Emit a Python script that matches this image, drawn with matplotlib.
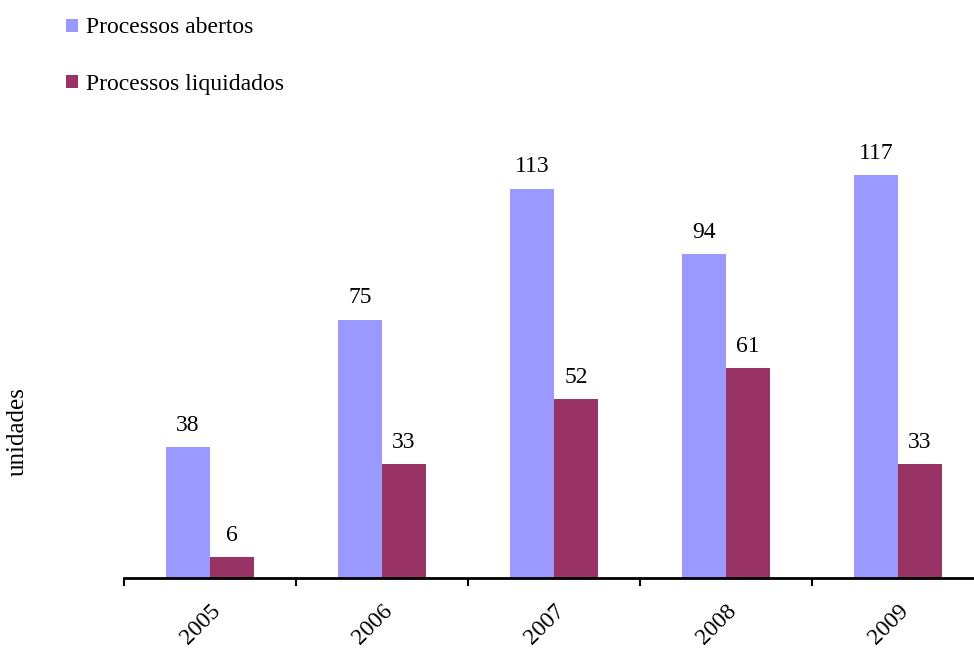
import matplotlib.pyplot as plt
import numpy as np

years = ["2005", "2006", "2007", "2008", "2009"]
abertos = [38, 75, 113, 94, 117]
liquidados = [6, 33, 52, 61, 33]

plt.rcParams['font.family'] = ['Liberation Serif', 'DejaVu Serif']

fig = plt.figure(figsize=(9.74, 6.48), dpi=100)
ax = fig.add_axes([124 / 974, 70 / 648, 860 / 974, 448 / 648])

x = np.arange(len(years))
w = 0.256
b1 = ax.bar(x - w / 2, abertos, w, color="#9999FF", label="Processos abertos")
b2 = ax.bar(x + w / 2, liquidados, w, color="#993366", label="Processos liquidados")

for bars, vals in [(b1, abertos), (b2, liquidados)]:
    for r, v in zip(bars, vals):
        ax.annotate(str(v), (r.get_x() + r.get_width() / 2, v),
                    xytext=(0, 8), textcoords="offset points",
                    ha="center", va="bottom", fontsize=17)

ax.set_xlim(-0.5, 4.5)
ax.set_ylim(0, 130)
for s in ["top", "right", "left"]:
    ax.spines[s].set_visible(False)
ax.spines["bottom"].set_linewidth(2)
ax.set_yticks([])

ax.set_xticks(np.arange(-0.5, 5, 1))
ax.set_xticklabels([])
ax.tick_params(axis="x", which="major", length=6, width=1.5, direction="out")
ax.set_xticks(x, minor=True)
ax.set_xticklabels(years, minor=True, rotation=45, ha="right",
                   rotation_mode="anchor", fontsize=17)
ax.tick_params(axis="x", which="minor", length=0, pad=16)

fig.text(18 / 974, 1 - 432 / 648, "unidades", rotation=90,
         ha="center", va="center", fontsize=18)

fig.legend(loc="upper left", bbox_to_anchor=(57 / 974, 1 - 8 / 648),
           frameon=False, fontsize=17, handlelength=0.47, handleheight=0.47,
           handletextpad=0.35, labelspacing=1.5, borderaxespad=0)

fig.savefig("out.png", dpi=100)
